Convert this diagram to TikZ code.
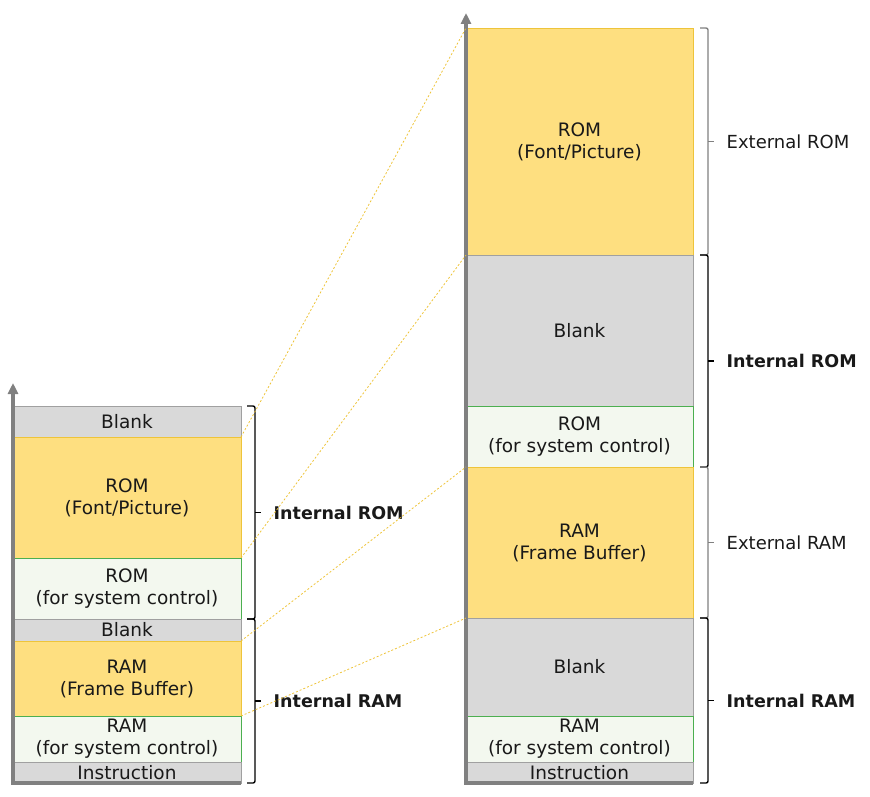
\documentclass[tikz,border=0pt]{standalone}
\usepackage{fontspec}
\setmainfont{DejaVu Sans}
\usetikzlibrary{positioning, arrows.meta, calc}

\definecolor{romyellow}{HTML}{FEDF80}
\definecolor{romedge}{HTML}{EEC43A}
\definecolor{blankgray}{HTML}{D9D9D9}
\definecolor{blankedge}{HTML}{A0A0A0}
\definecolor{ctrlgreen}{HTML}{F3F8EF}
\definecolor{ctrledge}{HTML}{4CAF50}
\definecolor{axisgray}{HTML}{808080}

\begin{document}
\begin{tikzpicture}[
  x=1pt, y=-1pt,
  mem/.style={draw, line width=0.8pt, anchor=north west, inner sep=0pt,
              outer sep=0pt, align=center, text=black!90,
              font=\fontsize{18.5}{22}\selectfont},
  blankbox/.style={mem, fill=blankgray, draw=blankedge},
  fontbox/.style={mem, fill=romyellow, draw=romedge},
  ctrlbox/.style={mem, fill=ctrlgreen, draw=ctrledge},
  axisline/.style={-{Triangle[width=10pt,length=11pt]}, line width=3.8pt,
                   axisgray},
  link/.style={romedge, line width=0.8pt, dash pattern=on 2pt off 2pt},
  bracket/.style={line width=1.4pt, rounded corners=2pt},
  rangelabel/.style={inner sep=0pt, text=black!90,
                     font=\fontsize{18}{22}\selectfont},
  boldlabel/.style={rangelabel, font=\fontsize{17.5}{22}\selectfont\bfseries}
]
  \useasboundingbox (0,0) rectangle (870,797);

  % left column: internal memory only
  \node[blankbox, minimum width=228, minimum height=31]  (lblankt)  at (13,406) {Blank};
  \node[fontbox,  minimum width=228, minimum height=121] (lromfont) at (13,437) {ROM\\(Font/Picture)};
  \node[ctrlbox,  minimum width=228, minimum height=61]  (lromsys)  at (13,558) {ROM\\(for system control)};
  \node[blankbox, minimum width=228, minimum height=22]  (lblankm)  at (13,619) {Blank};
  \node[fontbox,  minimum width=228, minimum height=75]  (lramfb)   at (13,641) {RAM\\(Frame Buffer)};
  \node[ctrlbox,  minimum width=228, minimum height=46]  (lramsys)  at (13,716) {RAM\\(for system control)};
  \node[blankbox, minimum width=228, minimum height=21]  (linstr)   at (13,762) {Instruction};

  % right column: with external memory
  \node[fontbox,  minimum width=227, minimum height=227] (rromfont) at (466,28)  {ROM\\(Font/Picture)};
  \node[blankbox, minimum width=227, minimum height=151] (rblankt)  at (466,255) {Blank};
  \node[ctrlbox,  minimum width=227, minimum height=61]  (rromsys)  at (466,406) {ROM\\(for system control)};
  \node[fontbox,  minimum width=227, minimum height=151] (rramfb)   at (466,467) {RAM\\(Frame Buffer)};
  \node[blankbox, minimum width=227, minimum height=98]  (rblankm)  at (466,618) {Blank};
  \node[ctrlbox,  minimum width=227, minimum height=46]  (rramsys)  at (466,716) {RAM\\(for system control)};
  \node[blankbox, minimum width=227, minimum height=21]  (rinstr)   at (466,762) {Instruction};

  % address axes
  \coordinate (ltop) at (13,383);
  \coordinate (rtop) at (466,13);
  \draw[axisline] (linstr.south east) -| (ltop);
  \draw[axisline] (rinstr.south east) -| (rtop);

  % ranges, left
  \draw[bracket] ([xshift=6]lblankt.north east) -| ([xshift=14]lromsys.south east)
    -- ([xshift=6]lromsys.south east);
  \draw[bracket] ($([xshift=14]lblankt.north east)!0.5!([xshift=14]lromsys.south east)$)
    -- ++(6,0) node[right=12pt, boldlabel] (lintrom) {Internal ROM};
  \draw[bracket] ([xshift=6]lblankm.north east) -| ([xshift=14]linstr.south east)
    -- ([xshift=6]linstr.south east);
  \draw[bracket] ($([xshift=14]lblankm.north east)!0.5!([xshift=14]linstr.south east)$)
    -- ++(6,0) node[right=12pt, boldlabel] (lintram) {Internal RAM};

  % ranges, right
  \draw[bracket, axisgray] ([xshift=7]rromfont.north east) -| ([xshift=15]rromfont.south east)
    -- ([xshift=7]rromfont.south east);
  \draw[bracket, axisgray] ($([xshift=15]rromfont.north east)!0.5!([xshift=15]rromfont.south east)$)
    -- ++(6,0) node[right=12pt, rangelabel] (rextrom) {External ROM};
  \draw[bracket] ([xshift=7]rblankt.north east) -| ([xshift=15]rromsys.south east)
    -- ([xshift=7]rromsys.south east);
  \draw[bracket] ($([xshift=15]rblankt.north east)!0.5!([xshift=15]rromsys.south east)$)
    -- ++(6,0) node[right=12pt, boldlabel] (rintrom) {Internal ROM};
  \draw[bracket, axisgray] ([xshift=7]rramfb.north east) -| ([xshift=15]rramfb.south east)
    -- ([xshift=7]rramfb.south east);
  \draw[bracket, axisgray] ($([xshift=15]rramfb.north east)!0.5!([xshift=15]rramfb.south east)$)
    -- ++(6,0) node[right=12pt, rangelabel] (rextram) {External RAM};
  \draw[bracket] ([xshift=7]rblankm.north east) -| ([xshift=15]rinstr.south east)
    -- ([xshift=7]rinstr.south east);
  \draw[bracket] ($([xshift=15]rblankm.north east)!0.5!([xshift=15]rinstr.south east)$)
    -- ++(6,0) node[right=12pt, boldlabel] (rintram) {Internal RAM};

  % mapping between the two columns
  \draw[link] (lblankt.south east) -- (rromfont.north west);
  \draw[link] (lromsys.north east) -- (rblankt.north west);
  \draw[link] (lblankm.south east) -- (rramfb.north west);
  \draw[link] (lramsys.north east) -- (rblankm.north west);
\end{tikzpicture}
\end{document}
